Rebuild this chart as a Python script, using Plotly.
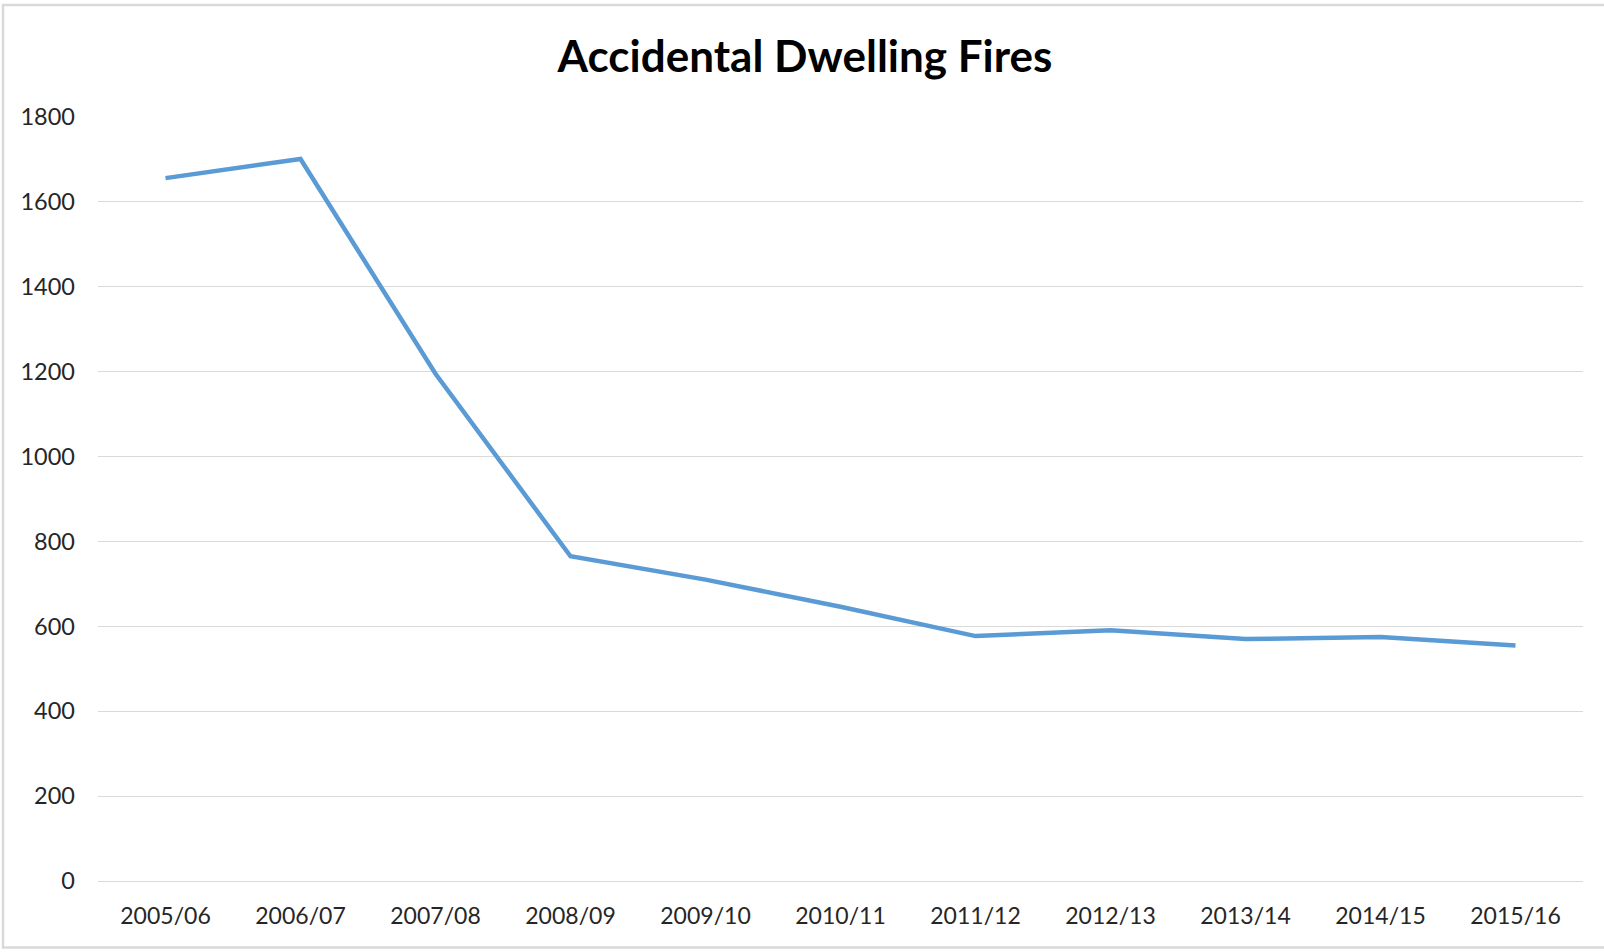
import plotly.graph_objects as go

# Data
years = ["2005/06", "2006/07", "2007/08", "2008/09", "2009/10", "2010/11",
         "2011/12", "2012/13", "2013/14", "2014/15", "2015/16"]
fires = [1656, 1701, 1195, 765, 710, 646, 577, 591, 570, 575, 555]
y_ticks = [0, 200, 400, 600, 800, 1000, 1200, 1400, 1600, 1800]

W, H = 1604, 952
ML, MT = 98, 117
MR = W - 1583
MB = H - 881.5
pw, ph = W - ML - MR, H - MT - MB

def px_to_paper_x(px):
    return (px - ML) / pw

def px_to_paper_y(py):
    return (H - MB - py) / ph

fig = go.Figure()
fig.add_trace(go.Scatter(
    x=years, y=fires, mode="lines",
    line=dict(color="#5B9BD5", width=4.5),
    hoverinfo="x+y", showlegend=False,
))

font_family = "Lato, 'Open Sans', sans-serif"

fig.update_layout(
    width=W, height=H,
    margin=dict(l=ML, r=MR, t=MT, b=MB),
    paper_bgcolor="white", plot_bgcolor="white",
    title=dict(
        text="<b>Accidental Dwelling Fires</b>",
        x=805 / W, xref="container", xanchor="center",
        y=1 - 57 / H, yref="container", yanchor="middle",
        font=dict(family=font_family, size=44, color="#000000"),
    ),
    font=dict(family=font_family, size=23, color="#262626"),
    xaxis=dict(
        type="category", range=[-0.5, len(years) - 0.5],
        showgrid=False, showline=False, zeroline=False,
        ticks="", ticklabelstandoff=19,
        tickfont=dict(family=font_family, size=23, color="#262626"),
        fixedrange=True,
    ),
    yaxis=dict(
        range=[0, 1800], tickvals=y_ticks,
        showgrid=True, gridcolor="#D9D9D9", gridwidth=1.3,
        zeroline=True, zerolinecolor="#D9D9D9", zerolinewidth=1.3,
        showline=False, ticks="",
        ticklabelstandoff=22,
        tickfont=dict(family=font_family, size=23.5, color="#262626"),
        fixedrange=True,
    ),
    shapes=[dict(
        type="rect", xref="paper", yref="paper",
        x0=px_to_paper_x(3), x1=px_to_paper_x(1615),
        y0=px_to_paper_y(948), y1=px_to_paper_y(5),
        line=dict(color="#D9D9D9", width=2.5), fillcolor="rgba(0,0,0,0)",
        layer="below",
    )],
)

fig.write_html(
    "out.html",
    config={"displayModeBar": False},
    post_script="document.body.style.margin='0px';document.body.style.overflow='hidden';",
)
